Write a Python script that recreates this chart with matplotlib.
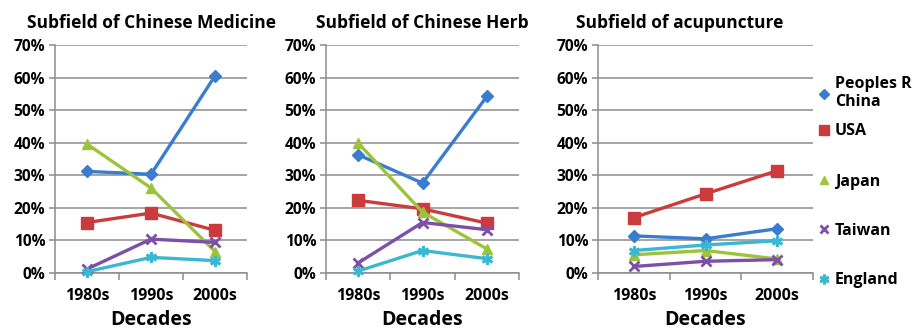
import numpy as np
import matplotlib
matplotlib.use("Agg")
import matplotlib.pyplot as plt
from matplotlib.lines import Line2D

plt.rcParams["font.family"] = ["Open Sans", "DejaVu Sans"]
plt.rcParams["font.weight"] = "bold"

decades = ["1980s", "1990s", "2000s"]
countries = ["Peoples R\nChina", "USA", "Japan", "Taiwan", "England"]
colors = ["#3a7dcf", "#cc3b3b", "#9dc33b", "#7d4fa6", "#3bb7d1"]
markers = ["D", "s", "^", "x", (6, 2, 0)]
msizes = [6, 8, 7, 7, 8]

titles = ["Subfield of Chinese Medicine", "Subfield of Chinese Herb",
          "Subfield of acupuncture"]

# shares in percent, per country, for each subfield
medicine = {
    "Peoples R\nChina": [31.2, 30.3, 60.5],
    "USA": [15.5, 18.4, 13.1],
    "Japan": [39.6, 26.1, 6.6],
    "Taiwan": [1.2, 10.4, 9.4],
    "England": [0.4, 4.8, 3.8],
}
herb = {
    "Peoples R\nChina": [36.3, 27.6, 54.2],
    "USA": [22.3, 19.7, 15.3],
    "Japan": [39.9, 18.7, 7.4],
    "Taiwan": [3.1, 15.5, 13.3],
    "England": [0.6, 6.9, 4.4],
}
acupuncture = {
    "Peoples R\nChina": [11.4, 10.5, 13.6],
    "USA": [17.0, 24.3, 31.4],
    "Japan": [5.6, 6.9, 4.3],
    "Taiwan": [2.0, 3.6, 4.1],
    "England": [6.9, 8.6, 9.9],
}
panels = [medicine, herb, acupuncture]

W, H = 921, 334
fig = plt.figure(figsize=(W / 100, H / 100), dpi=100)

# axes boxes in pixels: left, right
boxes = [(55, 247), (326, 519), (598, 813)]
top_px, bot_px = 45, 273
title_x = [None, None, 680]

x = np.arange(len(decades))
grid_c = "#8c8c8c"

for i, (data, (l, r)) in enumerate(zip(panels, boxes)):
    ax = fig.add_axes([l / W, 1 - bot_px / H, (r - l) / W, (bot_px - top_px) / H])
    ax.set_xlim(-0.5, 2.5)
    ax.set_ylim(0, 70)
    ax.set_yticks(np.arange(0, 71, 10))
    ax.set_yticklabels(["%d%%" % v for v in range(0, 71, 10)])
    ax.yaxis.grid(True, color=grid_c, linewidth=1.1)
    ax.set_axisbelow(True)
    for s in ["top", "right"]:
        ax.spines[s].set_visible(False)
    for s in ["left", "bottom"]:
        ax.spines[s].set_color(grid_c)
        ax.spines[s].set_linewidth(1.1)
    ax.set_xticks(x)
    ax.set_xticklabels(decades)
    ax.set_xticks([-0.5, 0.5, 1.5, 2.5], minor=True)
    ax.tick_params(axis="x", which="major", length=0, pad=11, labelsize=11.5)
    ax.tick_params(axis="x", which="minor", length=5, color=grid_c, width=1.1)
    ax.tick_params(axis="y", length=4, color=grid_c, width=1.1, pad=3,
                   labelsize=11.2)
    for name, c, m, ms in zip(countries, colors, markers, msizes):
        ax.plot(x, data[name], color=c, linewidth=2.4, marker=m,
                markersize=ms, markeredgewidth=2 if m in ("x", (6, 2, 0)) else 1,
                markeredgecolor=c, clip_on=False, zorder=3)
    ax.set_xlabel("Decades", fontsize=14, fontweight="bold", labelpad=4)
    if title_x[i] is None:
        ax.set_title(titles[i], fontsize=12.5, fontweight="bold", pad=12)
    else:
        ax.set_title(titles[i], fontsize=12.5, fontweight="bold", pad=12,
                     x=(title_x[i] - l) / (r - l))

handles = [Line2D([], [], ls="none", marker=m, color=c, markersize=ms - 1,
                  markeredgewidth=2 if m in ("x", (6, 2, 0)) else 1)
           for c, m, ms in zip(colors, markers, msizes)]

leg_kw = dict(frameon=False, fontsize=11.5, handlelength=0.7,
              handletextpad=0.35, borderaxespad=0, borderpad=0,
              loc="upper left")
leg1 = fig.legend(handles[:2], countries[:2], labelspacing=0.8,
                  bbox_to_anchor=(818 / W, 1 - 76 / H), **leg_kw)
leg2 = fig.legend(handles[2:], countries[2:], labelspacing=2.07,
                  bbox_to_anchor=(818 / W, 1 - 174 / H), **leg_kw)

fig.savefig("out.png", dpi=100)
